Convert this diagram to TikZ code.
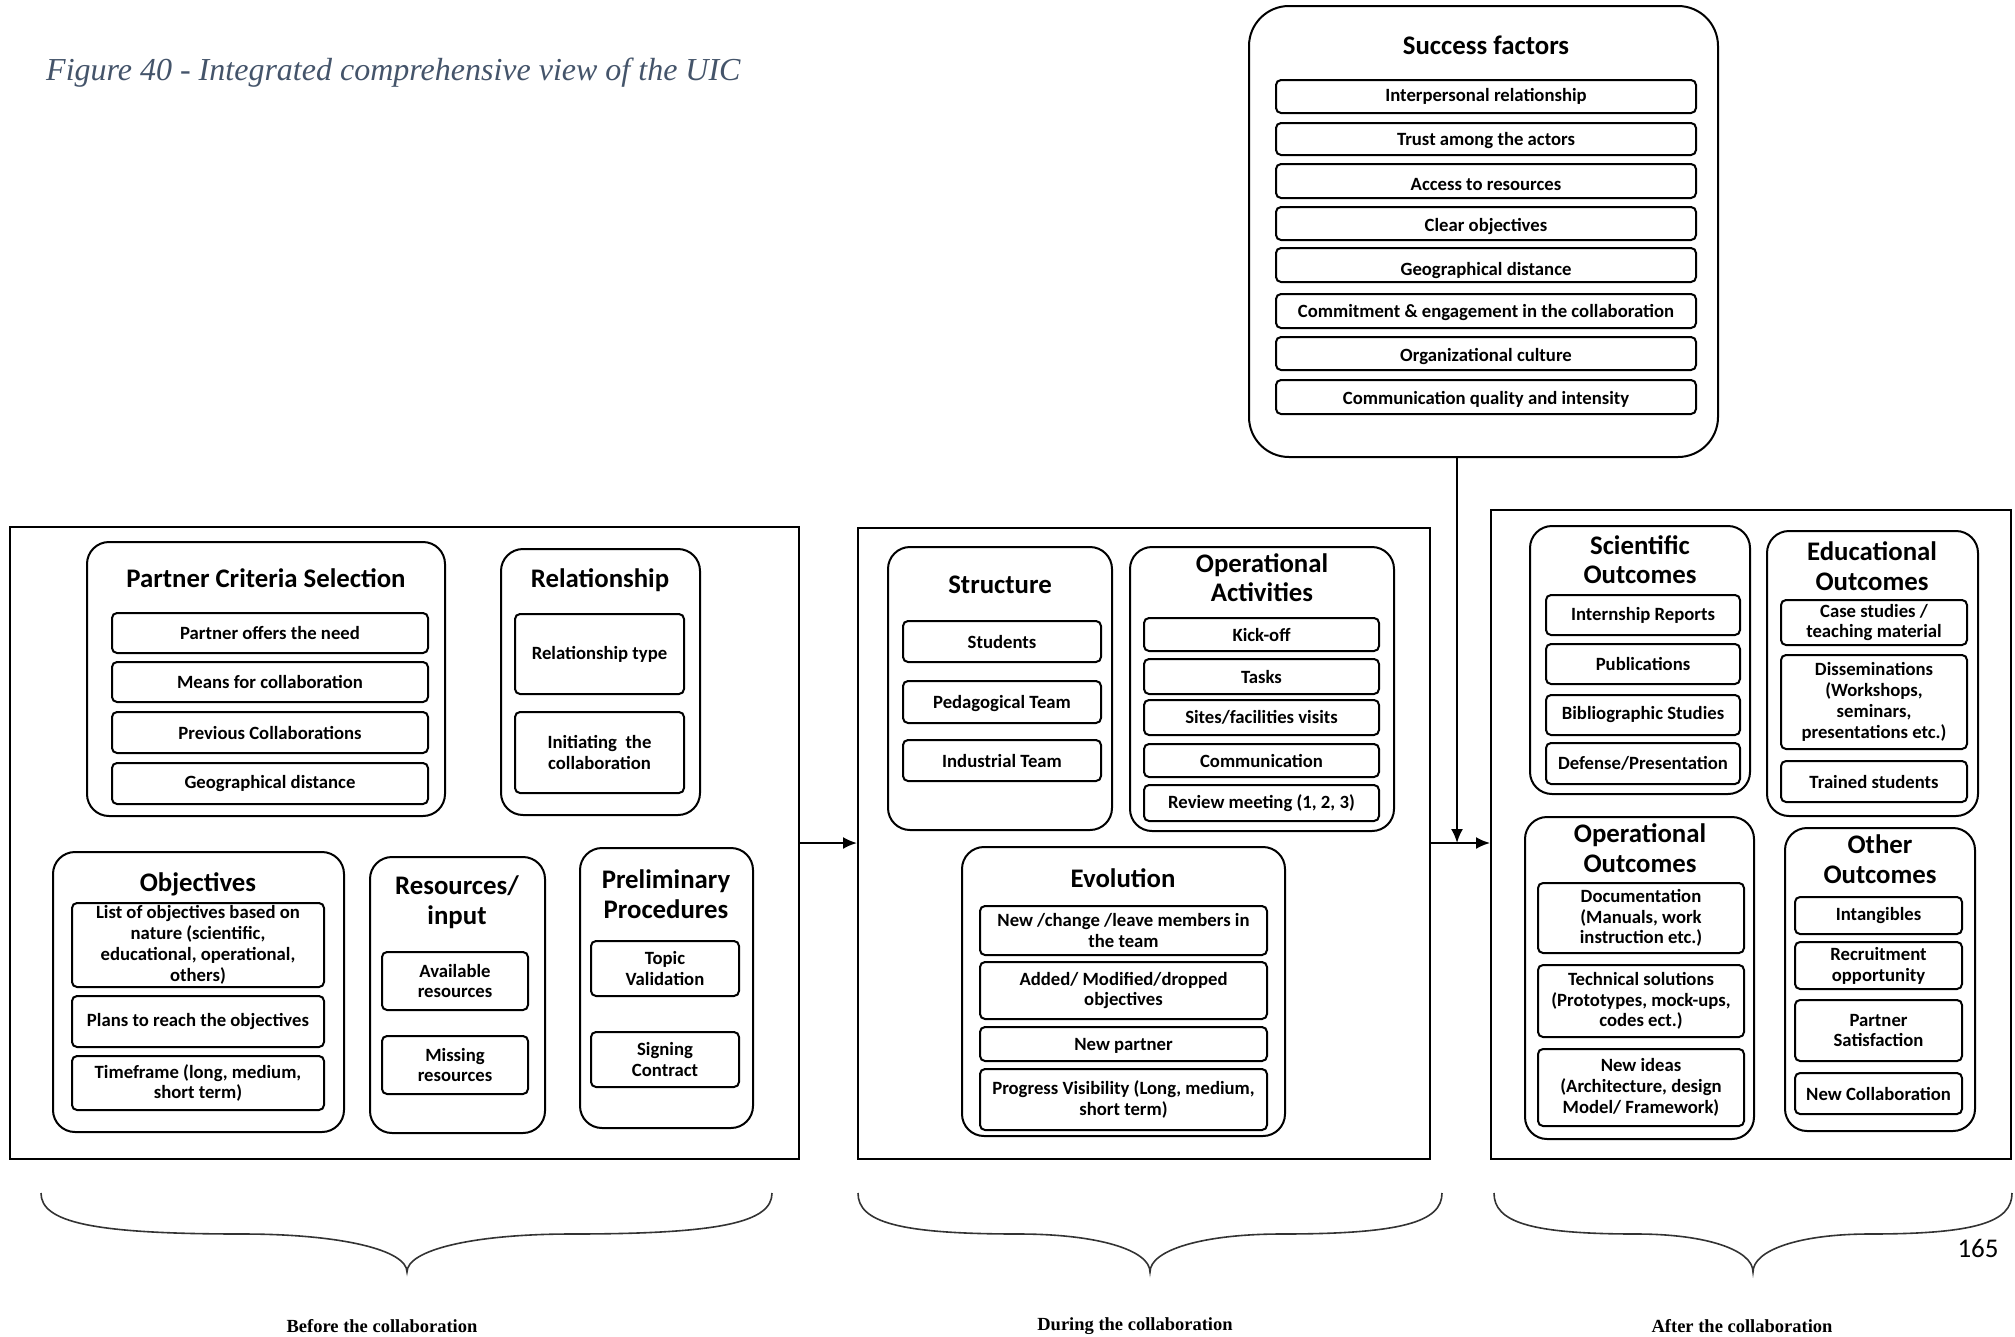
\documentclass[tikz,border=0pt]{standalone}
\usepackage{fontspec}
\setmainfont{Carlito}
\newfontfamily\capfont{Liberation Serif}
\usetikzlibrary{arrows.meta}
\definecolor{capblue}{HTML}{44546A}
\definecolor{bracegray}{HTML}{333333}
\newcommand{\itemfont}{\fontsize{18.7}{20.8}\selectfont\bfseries}
\newcommand{\titlefont}{\fontsize{26.8}{29.5}\selectfont\bfseries}
\newcommand{\lowerby}[2]{\raisebox{-#1pt}[\height][\depth]{#2}}
\tikzset{
  wh/.style 2 args={minimum width=#1pt, minimum height=#2pt},
  outerbox/.style={draw, line width=2pt, inner sep=0pt},
  groupbox/.style={draw, line width=2pt, rounded corners=22pt, inner sep=0pt},
  itembox/.style={draw, line width=2pt, rounded corners=5pt, inner sep=0pt, align=center, font=\itemfont},
  grouptitle/.style={align=center, font=\titlefont, inner sep=0pt},
  conn/.style={line width=2pt, -{Latex[length=14pt,width=12pt]}},
  bracestyle/.style={line width=1.6pt, bracegray},
  phaselabel/.style={font=\capfont\fontsize{18.5}{21}\selectfont\bfseries, inner sep=0pt}
}
\begin{document}
\begin{tikzpicture}[x=1pt,y=-1pt]
\useasboundingbox (0,0) rectangle (2015,1336);
% caption
\node[anchor=west, inner sep=0pt, text=capblue, font=\capfont\itshape\fontsize{32}{37}\selectfont] (caption) at (46,73) {Figure 40 - Integrated comprehensive view of the UIC};
% outer panels
\node[outerbox, wh={789}{632}] (before) at (404.5,843) {};
\node[outerbox, wh={572}{631}] (during) at (1144,843.5) {};
\node[outerbox, wh={520}{649}] (after) at (1751,834.5) {};
% success factors
\node[draw, line width=2pt, rounded corners=40pt, wh={469}{451}] (success) at (1483.5,231.5) {};
\node[grouptitle] (successt) at (1486,45) {Success factors};
\node[itembox, wh={420}{33}] (sf1) at (1486,96.5) {Interpersonal relationship};
\node[itembox, wh={420}{32}] (sf2) at (1486,139) {\lowerby{2}{Trust among the actors}};
\node[itembox, wh={420}{34}] (sf3) at (1486,181) {\lowerby{4}{Access to resources}};
\node[itembox, wh={420}{33}] (sf4) at (1486,223.5) {\lowerby{3.5}{Clear objectives}};
\node[itembox, wh={420}{34}] (sf5) at (1486,265) {\lowerby{5.5}{Geographical distance}};
\node[itembox, wh={420}{34}] (sf6) at (1486,311) {\lowerby{2}{Commitment \& engagement in the collaboration}};
\node[itembox, wh={420}{33}] (sf7) at (1486,353.5) {\lowerby{3.5}{Organizational culture}};
\node[itembox, wh={420}{34}] (sf8) at (1486,397) {\lowerby{2}{Communication quality and intensity}};
% ---------- before ----------
\node[groupbox, wh={358}{274}] (pcs) at (266,679) {};
\node[grouptitle] (pcst) at (266,578) {Partner Criteria Selection};
\node[itembox, wh={316}{40}] (a1) at (270,633) {Partner offers the need};
\node[itembox, wh={316}{40}] (a2) at (270,682) {Means for collaboration};
\node[itembox, wh={316}{41}] (a3) at (270,732.5) {Previous Collaborations};
\node[itembox, wh={316}{41}] (a4) at (270,783.5) {Geographical distance};
\node[groupbox, wh={199}{266}] (rel) at (600.5,682) {};
\node[grouptitle] (relt) at (600,580) {Relationship};
\node[itembox, wh={169}{80}] (r1) at (599.5,654) {Relationship type};
\node[itembox, wh={169}{81}] (r2) at (599.5,752.5) {Initiating\ \ the\\collaboration};
\node[groupbox, wh={291}{280}] (obj) at (198.5,992) {};
\node[grouptitle] (objt) at (198,884) {Objectives};
\node[itembox, wh={252}{84}] (o1) at (198,945) {List of objectives based on\\nature (scientific,\\educational, operational,\\others)};
\node[itembox, wh={252}{51}] (o2) at (198,1021.5) {Plans to reach the objectives};
\node[itembox, wh={252}{54}] (o3) at (198,1083) {Timeframe (long, medium,\\short term)};
\node[groupbox, wh={175}{276}] (res) at (457.5,995) {};
\node[grouptitle] (rest) at (457,902) {Resources/\\input};
\node[itembox, wh={146}{58}] (s1) at (455,981) {Available\\resources};
\node[itembox, wh={146}{58}] (s2) at (455,1065) {Missing\\resources};
\node[groupbox, wh={173}{280}] (pre) at (666.5,988) {};
\node[grouptitle] (pret) at (666,894) {Preliminary\\Procedures};
\node[itembox, wh={148}{55}] (p1) at (665,968.5) {Topic\\Validation};
\node[itembox, wh={148}{55}] (p2) at (665,1059.5) {Signing\\Contract};
% ---------- during ----------
\node[groupbox, wh={224}{283}] (str) at (1000,688.5) {};
\node[grouptitle] (strt) at (1000,585) {Structure};
\node[itembox, wh={198}{41}] (t1) at (1002,641.5) {Students};
\node[itembox, wh={198}{42}] (t2) at (1002,702) {\lowerby{2}{Pedagogical Team}};
\node[itembox, wh={198}{41}] (t3) at (1002,760.5) {Industrial Team};
\node[groupbox, wh={264}{284}] (opa) at (1262,689) {};
\node[grouptitle] (opat) at (1262,577.5) {Operational\\Activities};
\node[itembox, wh={235}{33}] (k1) at (1261.5,634.5) {Kick-off};
\node[itembox, wh={235}{35}] (k2) at (1261.5,676.5) {Tasks};
\node[itembox, wh={235}{35}] (k3) at (1261.5,717.5) {Sites/facilities visits};
\node[itembox, wh={235}{33}] (k4) at (1261.5,760.5) {Communication};
\node[itembox, wh={235}{36}] (k5) at (1261.5,803) {Review meeting (1, 2, 3)};
\node[groupbox, wh={323}{289}] (evo) at (1123.5,991.5) {};
\node[grouptitle] (evot) at (1123,878) {Evolution};
\node[itembox, wh={287}{49}] (e1) at (1123.5,930.5) {New /change /leave members in\\the team};
\node[itembox, wh={287}{57}] (e2) at (1123.5,990.5) {Added/ Modified/dropped\\objectives};
\node[itembox, wh={287}{34}] (e3) at (1123.5,1044) {\lowerby{2}{New partner}};
\node[itembox, wh={287}{61}] (e4) at (1123.5,1099.5) {Progress Visibility (Long, medium,\\short term)};
% ---------- after ----------
\node[groupbox, wh={220}{268}] (sci) at (1640,660) {};
\node[grouptitle] (scit) at (1640,559.5) {Scientific\\Outcomes};
\node[itembox, wh={194}{40}] (c1) at (1643,615) {Internship Reports};
\node[itembox, wh={194}{40}] (c2) at (1643,664) {Publications};
\node[itembox, wh={194}{40}] (c3) at (1643,715) {Bibliographic Studies};
\node[itembox, wh={194}{41}] (c4) at (1643,763.5) {Defense/Presentation};
\node[groupbox, wh={211}{285}] (edu) at (1872.5,673.5) {};
\node[grouptitle] (edut) at (1872,566) {Educational\\Outcomes};
\node[itembox, wh={186}{45}] (d1) at (1874,622.5) {Case studies /\\teaching material};
\node[itembox, wh={186}{94}] (d2) at (1874,702) {Disseminations\\(Workshops,\\seminars,\\presentations etc.)};
\node[itembox, wh={186}{41}] (d3) at (1874,781.5) {Trained students};
\node[groupbox, wh={229}{322}] (opo) at (1639.5,978) {};
\node[grouptitle] (opot) at (1640,848) {Operational\\Outcomes};
\node[itembox, wh={206}{70}] (f1) at (1641,918) {Documentation\\(Manuals, work\\instruction etc.)};
\node[itembox, wh={206}{72}] (f2) at (1641,1001) {Technical solutions\\(Prototypes, mock-ups,\\codes ect.)};
\node[itembox, wh={206}{77}] (f3) at (1641,1087.5) {New ideas\\(Architecture, design\\Model/ Framework)};
\node[groupbox, wh={190}{303}] (oth) at (1880,979.5) {};
\node[grouptitle] (otht) at (1880,859) {Other\\Outcomes};
\node[itembox, wh={167}{37}] (g1) at (1878.5,915.5) {Intangibles};
\node[itembox, wh={167}{47}] (g2) at (1878.5,965.5) {Recruitment\\opportunity};
\node[itembox, wh={167}{61}] (g3) at (1878.5,1030.5) {Partner\\Satisfaction};
\node[itembox, wh={167}{41}] (g4) at (1878.5,1093.5) {New Collaboration};
% ---------- connectors ----------
\coordinate (join) at (1457,843);
\draw[conn] (before.east) -- (during.west |- before.east);
\draw[conn] (during.east |- join) -- (after.west |- join);
\draw[conn] (success.south -| join) -- (join);
% ---------- braces ----------
\foreach \L/\R/\T in {41/772/407, 858/1442/1150, 1494/2012/1753}{
  \pgfmathsetmacro{\ml}{\L+0.55*(\T-\L)}
  \pgfmathsetmacro{\mr}{\R-0.55*(\R-\T)}
  \draw[bracestyle] (\L,1193) .. controls (\L,1222) and ({\L+0.25*(\ml-\L)},1234) .. (\ml,1234)
     .. controls ({\ml+0.6*(\T-\ml)},1234) and (\T,1250) .. (\T,1272)
     .. controls (\T,1250) and ({\mr-0.6*(\mr-\T)},1234) .. (\mr,1234)
     .. controls ({\R-0.25*(\R-\mr)},1234) and (\R,1222) .. (\R,1193);
}
\node[phaselabel] (lbefore) at (382,1326) {Before the collaboration};
\node[phaselabel] (lduring) at (1135,1326) {During the collaboration};
\node[phaselabel] (lafter) at (1742,1326) {After the collaboration};
\node[font=\fontsize{27}{30}\selectfont, inner sep=0pt] (pagenum) at (1978,1248) {165};
\end{tikzpicture}
\end{document}
